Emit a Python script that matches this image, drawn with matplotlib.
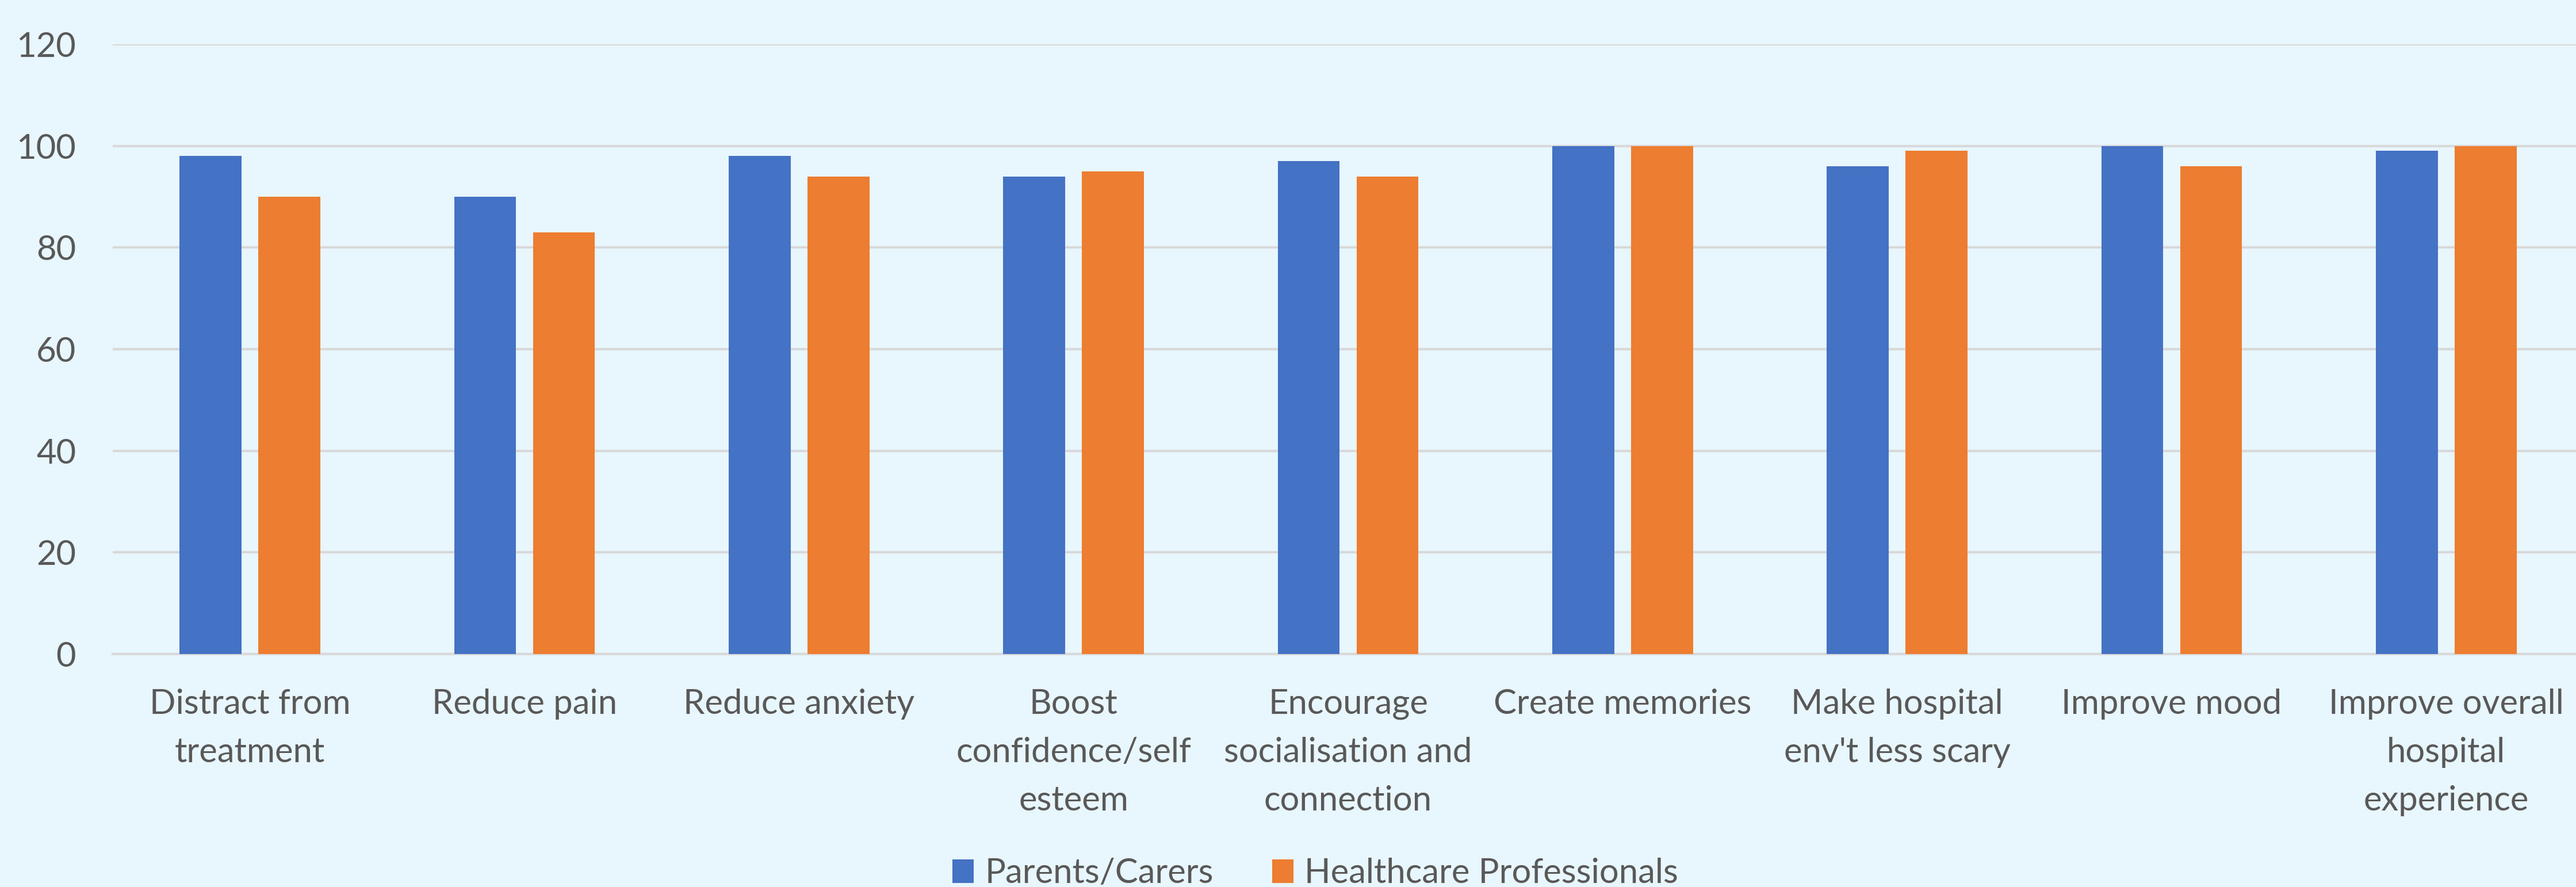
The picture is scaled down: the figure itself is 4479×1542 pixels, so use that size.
import matplotlib
matplotlib.use("Agg")
import matplotlib.pyplot as plt
import numpy as np

categories = ["Distract from\ntreatment", "Reduce pain", "Reduce anxiety",
              "Boost\nconfidence/self\nesteem", "Encourage\nsocialisation and\nconnection",
              "Create memories", "Make hospital\nenv't less scary", "Improve mood",
              "Improve overall\nhospital\nexperience"]
parents = [98, 90, 98, 94, 97, 100, 96, 100, 99]
professionals = [90, 83, 94, 95, 94, 100, 99, 96, 100]
series_names = ["Parents/Carers", "Healthcare Professionals"]
yticks = [0, 20, 40, 60, 80, 100, 120]

BG = "#E8F6FD"
TXT = "#595959"
GRID = "#D9D9D9"
FS = 43

plt.rcParams['font.family'] = ['Lato', 'DejaVu Sans']

fig = plt.figure(figsize=(44.79, 15.42), dpi=100, facecolor=BG)
ax = fig.add_axes([196/4479, 1 - 1137/1542, 4296/4479, 1060/1542])
ax.set_facecolor(BG)

x = np.arange(len(categories))
off = 0.1435
w = 0.226
ax.bar(x - off, parents, w, color="#4472C4", label=series_names[0], zorder=3)
ax.bar(x + off, professionals, w, color="#ED7D31", label=series_names[1], zorder=3)

ax.set_xlim(-0.5, len(categories) - 0.5)
ax.set_ylim(0, 120)
ax.set_yticks(yticks)
ax.set_yticklabels([str(t) for t in yticks])
ax.yaxis.grid(True, color=GRID, lw=3, zorder=0)
ax.set_axisbelow(True)
for s in ["top", "right", "left"]:
    ax.spines[s].set_visible(False)
ax.spines["bottom"].set_color(GRID)
ax.spines["bottom"].set_linewidth(3)

ax.set_xticks(x)
ax.set_xticklabels(categories, linespacing=1.68)
ax.tick_params(axis="x", length=0, pad=43, labelsize=FS, labelcolor=TXT)
ax.tick_params(axis="y", length=0, pad=46, labelsize=FS, labelcolor=TXT)

leg = fig.legend(loc="center", bbox_to_anchor=(2287/4479, 1 - 1518/1542),
                 ncol=2, frameon=False, fontsize=FS, labelcolor=TXT,
                 handlelength=0.62, handleheight=0.68, handletextpad=0.33,
                 columnspacing=1.7, borderpad=0)

fig.savefig("out.png", dpi=100, facecolor=BG)
